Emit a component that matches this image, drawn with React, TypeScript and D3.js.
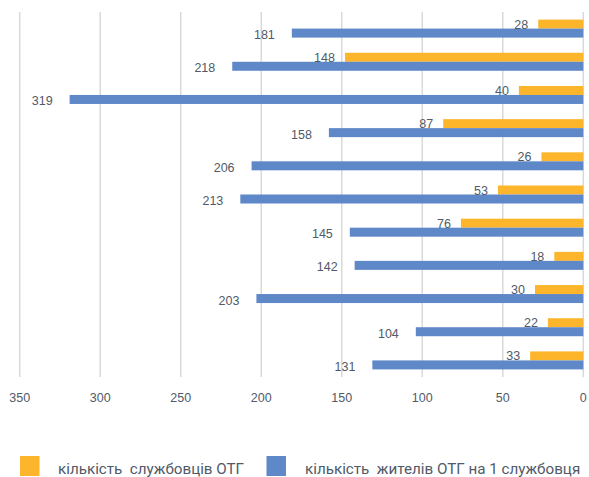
import React from "react";
import * as d3 from "d3";

const categories = ["1", "2", "3", "4", "5", "6", "7", "8", "9", "10", "11"];
const servants = [28, 148, 40, 87, 26, 53, 76, 18, 30, 22, 33];
const residents = [181, 218, 319, 158, 206, 213, 145, 142, 203, 104, 131];
const ticks = [350, 300, 250, 200, 150, 100, 50, 0];
const seriesNames = ["кількість  службовців ОТГ", "кількість  жителів ОТГ на 1 службовця"];
const colors = ["#FDB62C", "#5F88C8"];

const W = 589;
const H = 477;

export default function App() {
  const x = d3.scaleLinear().domain([0, 350]).range([583.3, 19.7]);
  const y = d3.scaleBand().domain(categories).range([12, 377]).paddingInner(0).paddingOuter(0);
  const bh = 9;
  const textColor = "#505A68";
  const numFont = "'Liberation Sans', Arial, sans-serif";
  return (
    <svg width={W} height={H} style={{ position: "absolute", left: 0, top: 0, background: "#fff" }}>
      {ticks.map((t) => (
        <line key={"g" + t} x1={x(t)} x2={x(t)} y1={12} y2={377} stroke="#D9D9D9" strokeWidth={1.5} />
      ))}
      {ticks.map((t) => (
        <text key={"t" + t} x={x(t)} y={402} textAnchor="middle" fontSize={12.5} fontFamily={numFont} fill={textColor}>
          {t}
        </text>
      ))}
      {categories.map((c, i) => {
        const cy = (y(c) as number) + y.bandwidth() / 2;
        return (
          <g key={c}>
            <rect x={x(servants[i])} y={cy - bh} width={x(0) - x(servants[i])} height={bh} fill={colors[0]} />
            <rect x={x(residents[i])} y={cy} width={x(0) - x(residents[i])} height={bh} fill={colors[1]} />
            <text x={x(servants[i]) - 10} y={cy - bh / 2 + 4.5} textAnchor="end" fontSize={12.5} fontFamily={numFont} fill={textColor}>
              {servants[i]}
            </text>
            <text x={x(residents[i]) - 17} y={cy + bh / 2 + 6} textAnchor="end" fontSize={12.5} fontFamily={numFont} fill={textColor}>
              {residents[i]}
            </text>
          </g>
        );
      })}
      <rect x={20} y={456} width={19.5} height={20} fill={colors[0]} />
      <text x={58} y={474} fontSize={15.2} fontFamily="Roboto, sans-serif" fill={textColor} style={{ whiteSpace: "pre" }}>
        {seriesNames[0]}
      </text>
      <rect x={266.5} y={456} width={19.5} height={20} fill={colors[1]} />
      <text x={305} y={474} fontSize={15.2} fontFamily="Roboto, sans-serif" fill={textColor} style={{ whiteSpace: "pre" }}>
        {seriesNames[1]}
      </text>
    </svg>
  );
}
